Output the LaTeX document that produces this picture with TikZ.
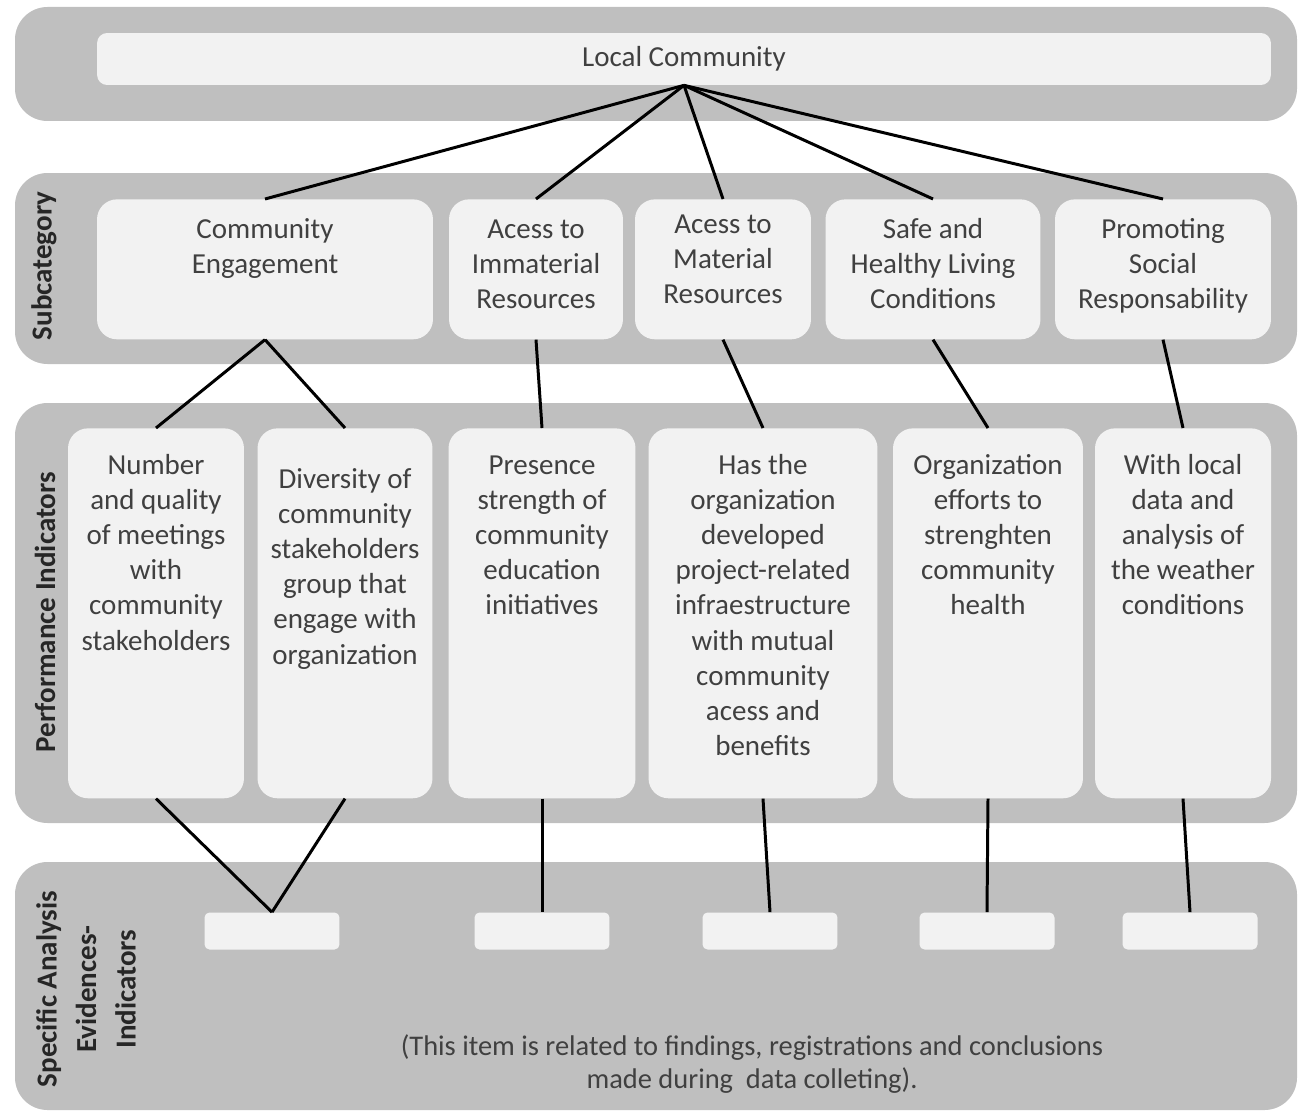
\documentclass[tikz,border=0pt]{standalone}
\usepackage{fontspec}
\setmainfont{Carlito}
\usepackage{xcolor}
\usepackage{tikz}
\definecolor{bandgray}{HTML}{BFBFBF}
\definecolor{boxgray}{HTML}{F2F2F2}
\definecolor{textgray}{HTML}{404040}

\begin{document}
\begin{tikzpicture}[x=0.02cm, y=-0.02cm,
        font=\fontsize{16.5}{20}\selectfont,
        band/.style={fill=bandgray, rounded corners=0.65cm},
        box/.style={fill=boxgray, text=textgray, inner xsep=0.05cm},
        topbox/.style={box, anchor=north, rounded corners=0.4cm, align=flush center, text height=0.5cm},
        subbox/.style={topbox, inner ysep=0.28cm, text depth=1.74cm},
        perfbox/.style={topbox, inner ysep=0.4cm, text height=0.52cm, text depth=6.08cm},
        evbox/.style={box, minimum width=2.7cm, minimum height=0.74cm, rounded corners=0.1cm},
        bandlabel/.style={rotate=90, font=\fontsize{16.5}{22.5}\selectfont\bfseries, text=black!85, align=center},
        link/.style={line width=1.7pt}]
        \useasboundingbox (0,0) rectangle (1301,1115);

        % Draw the bands
        \fill[band] (15,7) rectangle (1297,121);
        \fill[band] (15,173) rectangle (1297,364);
        \fill[band] (15,403) rectangle (1297,823);
        \fill[band] (15,862) rectangle (1297,1110);

        % Band labels
        \node[bandlabel] (sublabel) at (44,266) {Subcategory};
        \node[bandlabel] (perflabel) at (45,612) {Performance Indicators};
        \node[bandlabel] (speclabel) at (86,989) {Specific Analysis\\Evidences-\\Indicators};

        % Draw the top box
        \node[box, minimum width=23.48cm, minimum height=1.04cm, rounded corners=0.2cm] (lc) at (684,59) {Local Community};

        % Subcategory boxes
        \node[subbox, text width=6.62cm] (ce) at (265,199) {Community\\Engagement};
        \node[subbox, text width=3.38cm] (imr) at (536,199) {Acess to\\Immaterial\\Resources};
        \node[subbox, text width=3.42cm, text height=0.4cm, text depth=1.84cm] (mar) at (723,199) {Acess to\\Material\\Resources};
        \node[subbox, text width=4.2cm] (shl) at (933,199) {Safe and\\Healthy Living\\Conditions};
        \node[subbox, text width=4.22cm] (psr) at (1163,199) {Promoting\\Social\\Responsability};

        % Performance indicator boxes
        \node[perfbox, text width=3.42cm] (nq) at (156,428) {Number\\and quality\\of meetings\\with\\community\\stakeholders};
        \node[perfbox, text width=3.4cm, text height=0.8cm, text depth=5.8cm] (dcs) at (345,428) {Diversity of\\community\\stakeholders\\group that\\engage with\\organization};
        \node[perfbox, text width=3.64cm] (pse) at (542,428) {Presence\\strength of\\community\\education\\initiatives};
        \node[perfbox, text width=4.48cm] (hod) at (763,428) {Has the\\organization\\developed\\project-related\\infraestructure\\with mutual\\community\\acess and\\benefits};
        \node[perfbox, text width=3.7cm] (oes) at (988,428) {Organization\\efforts to\\strenghten\\community\\health};
        \node[perfbox, text width=3.42cm] (wld) at (1183,428) {With local\\data and\\analysis of\\the weather\\conditions};

        % Evidence boxes
        \node[evbox] (ev1) at (272,931) {};
        \node[evbox] (ev2) at (542,931) {};
        \node[evbox] (ev3) at (770,931) {};
        \node[evbox] (ev4) at (987,931) {};
        \node[evbox] (ev5) at (1190,931) {};

        \node[text=textgray, align=center, font=\fontsize{16.2}{19}\selectfont] (note) at (752,1064) {(This item is related to findings, registrations and conclusions\\made during\ \ data colleting).};

        % Draw the links
        \foreach \s in {ce, imr, mar, shl, psr}
            \draw[link] (lc.south) -- (\s.north);
        \draw[link] (ce.south) -- (nq.north);
        \draw[link] (ce.south) -- (dcs.north);
        \draw[link] (imr.south) -- (pse.north);
        \draw[link] (mar.south) -- (hod.north);
        \draw[link] (shl.south) -- (oes.north);
        \draw[link] (psr.south) -- (wld.north);
        \draw[link] (nq.south) -- (ev1.north);
        \draw[link] (dcs.south) -- (ev1.north);
        \draw[link] (pse.south) -- (ev2.north);
        \draw[link] (hod.south) -- (ev3.north);
        \draw[link] (oes.south) -- (ev4.north);
        \draw[link] (wld.south) -- (ev5.north);
    \end{tikzpicture}
\end{document}
